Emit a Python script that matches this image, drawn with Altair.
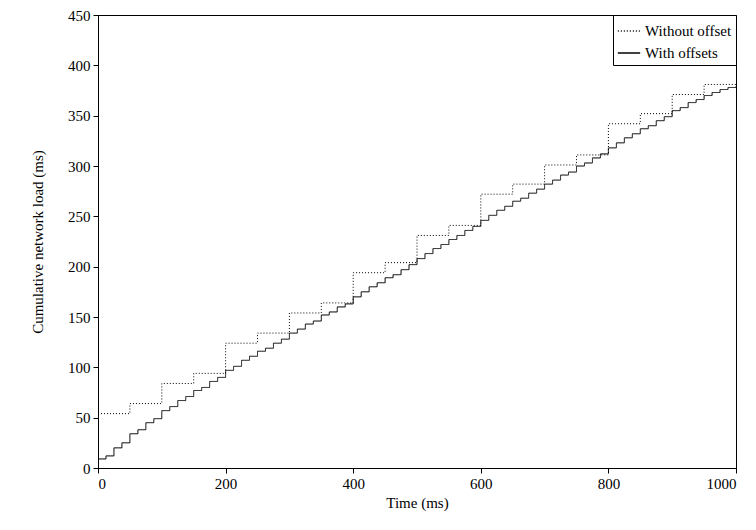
import pandas as pd
import altair as alt

# Without offset: value held over each 50 ms interval
no_off_t = [0, 50, 100, 150, 200, 250, 300, 350, 400, 450, 500, 550, 600, 650, 700, 750, 800, 850, 900, 950, 1000]
no_off_v = [54, 64, 84, 94, 124, 134, 154, 164, 194, 204, 231, 241, 272, 282, 301, 311, 342, 352, 371, 381, 381]

# With offsets: value held over each 12.5 ms interval
off_t = [i * 12.5 for i in range(81)]
off_v = [9, 12, 20, 25, 34, 38, 45, 49, 57, 61, 67, 71, 77, 80, 86, 90,
         97, 101, 107, 111, 116, 119, 124, 128, 134, 138, 143, 146, 152, 155, 160, 163,
         170, 175, 180, 184, 189, 192, 197, 202, 208, 213, 218, 222, 227, 231, 236, 240,
         246, 251, 256, 260, 265, 268, 273, 277, 282, 286, 291, 294, 300, 303, 308, 312,
         318, 323, 328, 332, 337, 340, 345, 349, 355, 358, 363, 366, 370, 373, 376, 378, 379]

df = pd.concat([
    pd.DataFrame({'t': no_off_t, 'v': no_off_v, 'series': 'Without offset'}),
    pd.DataFrame({'t': off_t, 'v': off_v, 'series': 'With offsets'}),
])

chart = alt.Chart(df).mark_line(interpolate='step-after', color='black', strokeWidth=1).encode(
    x=alt.X('t:Q', title='Time (ms)', scale=alt.Scale(domain=[0, 1000], nice=False),
            axis=alt.Axis(values=[0, 200, 400, 600, 800, 1000], grid=False, format='d')),
    y=alt.Y('v:Q', title='Cumulative network load (ms)', scale=alt.Scale(domain=[0, 450], nice=False),
            axis=alt.Axis(values=list(range(0, 451, 50)), grid=False, titlePadding=22)),
    strokeDash=alt.StrokeDash('series:N', title=None,
                              scale=alt.Scale(domain=['Without offset', 'With offsets'],
                                              range=[[1, 2], [1, 0]]),
                              legend=alt.Legend(orient='top-right', symbolType='stroke',
                                                symbolStrokeColor='black', symbolSize=500,
                                                strokeColor='black', padding=4, offset=0,
                                                fillColor='white')),
    detail='series:N',
).properties(
    width=638, height=453, padding={'left': 22, 'top': 0, 'right': 5, 'bottom': 5}
).configure(
    font='Liberation Serif'
).configure_axis(
    labelFontSize=15, titleFontSize=15, titleFontWeight='normal', labelColor='black',
    titleColor='black', domainColor='black', tickColor='black', tickSize=5, labelPadding=3
).configure_legend(
    labelFontSize=15, labelColor='black'
).configure_view(stroke='black')

chart.save("out.html", embed_options={"renderer": "svg", "actions": False})
